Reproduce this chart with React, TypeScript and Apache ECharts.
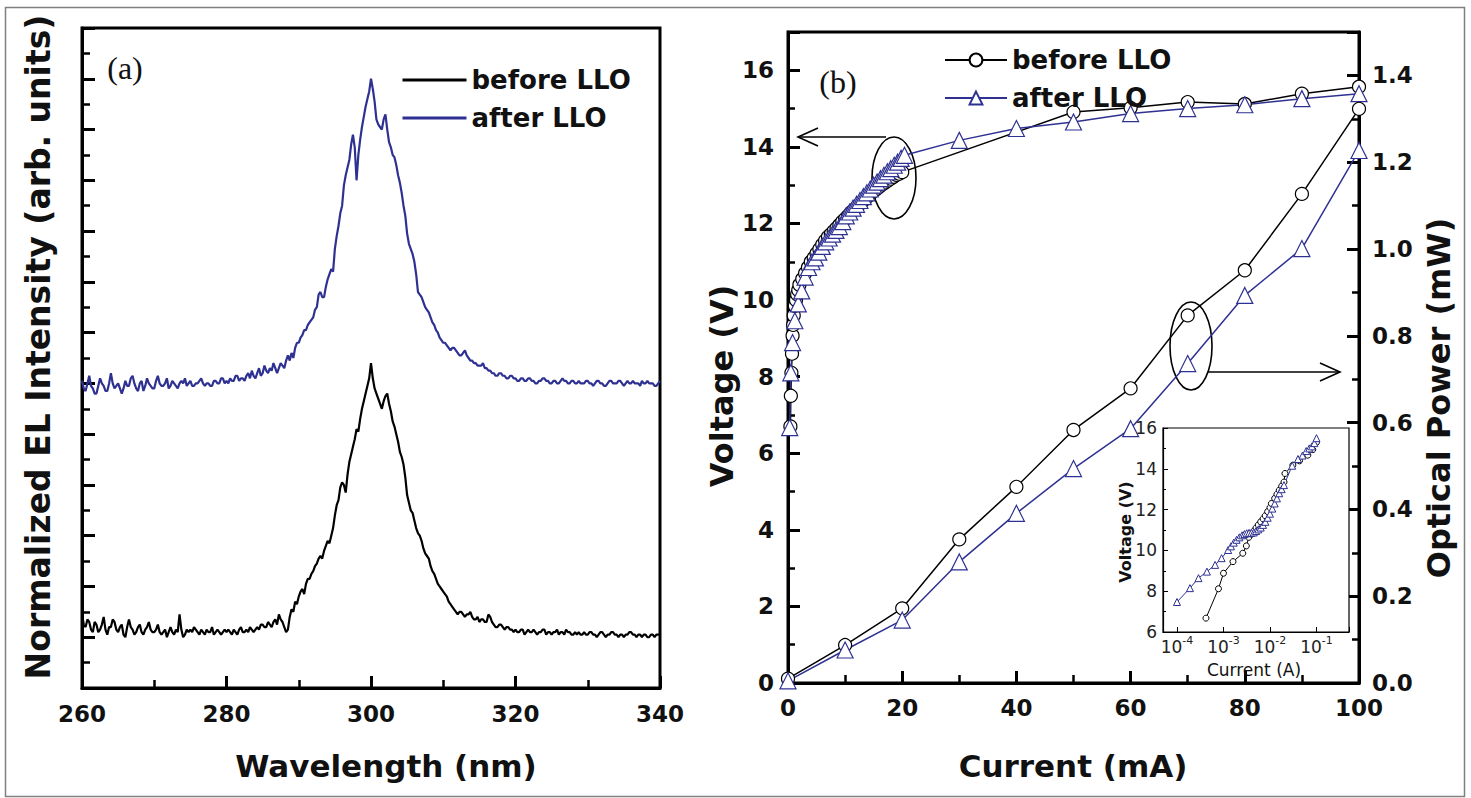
import React, { useEffect, useRef } from "react";
import * as echarts from "echarts";

// ---------- Panel (a): EL spectra (260–340 nm, 0.25 nm steps) ----------
const wlStart = 260;
const wlStep = 0.25;
const specBefore: number[] = [
  2.9, 2.5, 2.4, 2.7, 2.6, 2.3, 2.2, 2.6, 2.5, 2.2, 2.3, 2.5, 2.8, 2.3, 2.1, 2.4, 2.4, 2.7, 2.6, 2.3,
  2.2, 2.4, 2.5, 2.1, 2.0, 2.4, 2.7, 2.4, 2.3, 2.1, 2.2, 2.4, 2.5, 2.2, 2.1, 2.3, 2.4, 2.6, 2.3, 2.2,
  2.2, 2.3, 2.5, 2.2, 2.1, 2.2, 2.3, 2.0, 2.2, 2.4, 2.2, 2.1, 2.3, 2.2, 2.9, 2.3, 2.0, 2.1, 2.3, 2.2,
  2.3, 2.2, 2.4, 2.3, 2.2, 2.1, 2.3, 2.2, 2.1, 2.3, 2.2, 2.2, 2.4, 2.1, 2.2, 2.3, 2.2, 2.1, 2.2, 2.3,
  2.2, 2.3, 2.2, 2.1, 2.3, 2.2, 2.1, 2.3, 2.4, 2.2, 2.2, 2.3, 2.2, 2.4, 2.3, 2.2, 2.3, 2.4, 2.3, 2.5,
  2.5, 2.4, 2.4, 2.6, 2.5, 2.4, 2.6, 2.7, 2.5, 2.9, 2.7, 2.6, 2.4, 2.2, 2.3, 2.8, 3.1, 3.0, 3.4, 3.3,
  3.6, 3.8, 3.9, 3.7, 4.1, 4.3, 4.3, 4.5, 4.6, 4.8, 4.9, 5.1, 5.2, 5.1, 5.4, 5.6, 5.8, 5.7, 6.0, 6.3,
  6.8, 7.2, 7.4, 7.9, 8.1, 8.0, 7.7, 8.4, 8.9, 9.2, 9.5, 9.8, 10.2, 10.1, 10.6, 11.0, 11.3, 11.6, 11.9, 12.2,
  12.8, 12.2, 11.8, 11.6, 11.4, 11.2, 11.0, 11.3, 11.5, 11.6, 11.2, 10.9, 10.5, 10.3, 10.0, 9.7, 9.3, 9.1, 8.8, 8.3,
  7.6, 7.3, 7.0, 6.9, 6.6, 6.3, 6.1, 6.0, 5.8, 5.5, 5.3, 5.2, 5.1, 4.8, 4.6, 4.5, 4.3, 4.1, 4.0, 3.9,
  3.8, 3.7, 3.6, 3.4, 3.3, 3.2, 3.1, 3.0, 2.9, 3.0, 3.0, 2.9, 2.8, 2.9, 2.9, 3.0, 2.8, 2.7, 2.7, 2.8,
  2.6, 2.7, 2.7, 2.6, 2.6, 2.9, 2.8, 2.6, 2.5, 2.4, 2.4, 2.5, 2.5, 2.4, 2.3, 2.4, 2.4, 2.3, 2.3, 2.2,
  2.3, 2.2, 2.2, 2.3, 2.3, 2.1, 2.2, 2.3, 2.2, 2.2, 2.3, 2.2, 2.1, 2.2, 2.2, 2.3, 2.3, 2.1, 2.2, 2.2,
  2.1, 2.2, 2.2, 2.3, 2.1, 2.2, 2.2, 2.1, 2.3, 2.2, 2.2, 2.1, 2.1, 2.2, 2.1, 2.2, 2.1, 2.1, 2.2, 2.1,
  2.1, 2.2, 2.2, 2.1, 2.1, 2.0, 2.1, 2.2, 2.2, 2.1, 2.0, 2.1, 2.1, 2.2, 2.2, 2.1, 2.1, 2.0, 2.1, 2.1,
  2.0, 2.1, 2.1, 2.2, 2.2, 2.1, 2.1, 2.0, 2.1, 2.1, 2.0, 2.1, 2.1, 2.0, 2.0, 2.1, 2.1, 2.0, 2.1, 2.1,
  2.1,
];
const specAfter: number[] = [
  12.1, 11.8, 11.7, 12.0, 12.3, 11.9, 11.8, 11.6, 11.6, 11.9, 12.2, 12.0, 11.9, 11.7, 11.7, 12.0, 12.4, 12.0, 11.8, 11.9,
  12.0, 11.8, 11.6, 11.8, 12.1, 11.9, 11.9, 12.2, 12.3, 12.0, 11.8, 11.7, 12.0, 12.1, 11.7, 11.9, 12.2, 12.0, 11.9, 11.8,
  11.8, 12.1, 12.3, 12.0, 11.9, 11.9, 12.0, 12.2, 11.8, 11.9, 12.1, 12.0, 11.9, 11.8, 12.0, 12.1, 12.0, 12.2, 11.9, 12.0,
  12.1, 11.9, 11.9, 12.0, 12.0, 12.1, 12.2, 12.0, 11.9, 12.0, 12.0, 11.9, 11.9, 12.1, 12.1, 12.0, 12.0, 12.2, 12.2, 12.0,
  12.1, 12.0, 12.2, 12.1, 12.1, 12.3, 12.3, 12.1, 12.2, 12.2, 12.1, 12.3, 12.4, 12.2, 12.5, 12.3, 12.2, 12.4, 12.6, 12.3,
  12.4, 12.7, 12.5, 12.4, 12.6, 12.5, 12.8, 12.6, 12.4, 12.6, 12.8, 12.7, 12.6, 12.9, 13.1, 12.9, 13.2, 13.0, 13.4, 13.6,
  13.6, 13.8, 13.9, 14.1, 14.1, 14.3, 14.4, 14.5, 14.6, 14.9, 15.0, 15.5, 15.6, 15.4, 15.4, 15.8, 16.1, 16.3, 16.5, 16.4,
  17.3, 17.8, 18.2, 18.7, 19.0, 19.8, 20.2, 20.5, 20.8, 21.4, 21.8, 21.3, 20.0, 21.0, 21.6, 22.1, 22.5, 22.9, 23.2, 23.5,
  24.0, 23.6, 23.1, 22.4, 22.2, 22.1, 22.0, 22.4, 22.6, 22.0, 21.5, 21.3, 21.0, 20.9, 20.6, 20.2, 19.9, 19.5, 19.0, 18.6,
  17.9, 17.5, 17.3, 17.1, 16.8, 16.3, 15.6, 15.5, 15.4, 15.2, 15.0, 14.9, 14.8, 14.6, 14.4, 14.3, 14.1, 14.0, 13.8, 13.7,
  13.6, 13.6, 13.5, 13.4, 13.3, 13.4, 13.4, 13.3, 13.2, 13.1, 13.1, 13.2, 13.3, 13.1, 13.0, 12.9, 12.9, 12.8, 12.8, 12.7,
  12.7, 12.7, 12.8, 12.6, 12.6, 12.5, 12.5, 12.4, 12.4, 12.3, 12.3, 12.4, 12.4, 12.3, 12.3, 12.2, 12.2, 12.3, 12.3, 12.2,
  12.2, 12.1, 12.1, 12.2, 12.2, 12.1, 12.1, 12.2, 12.2, 12.1, 12.1, 12.0, 12.0, 12.1, 12.1, 12.2, 12.2, 12.1, 12.1, 12.0,
  12.0, 12.1, 12.1, 12.0, 12.0, 12.1, 12.2, 12.1, 12.1, 12.0, 12.0, 12.1, 12.1, 12.0, 12.0, 12.1, 12.0, 12.0, 12.0, 12.1,
  12.1, 12.0, 12.0, 11.9, 12.0, 12.1, 12.1, 12.0, 12.0, 11.9, 11.9, 12.0, 12.1, 12.1, 12.0, 12.0, 12.0, 12.1, 12.1, 12.0,
  11.9, 12.0, 12.1, 12.0, 12.0, 12.1, 12.0, 12.0, 12.0, 11.9, 12.1, 12.0, 12.0, 12.1, 12.0, 12.0, 12.0, 11.9, 11.9, 12.0,
  12.1,
];

// ---------- Panel (b): L-I-V ----------
const vBeforeI: number[] = [0.42, 0.5, 0.6, 0.7, 0.8, 0.9, 1.0, 1.2, 1.4, 1.6, 1.8, 2.0, 2.5, 3.0, 3.5, 4.0, 4.5, 5.0, 5.5, 6.0, 6.5, 7.0, 7.5, 8.0, 8.5, 9.0, 9.5, 10.0, 10.5, 11, 11.5, 12, 12.5, 13, 13.5, 14, 14.5, 15, 15.5, 16, 16.5, 17, 17.5, 18, 18.5, 19, 19.5, 20, 50, 60, 70, 80, 90, 100];
const vBeforeV: number[] = [6.7, 7.5, 8.1, 8.6, 9.07, 9.35, 9.6, 9.85, 10.0, 10.15, 10.26, 10.4, 10.55, 10.7, 10.85, 11.0, 11.1, 11.22, 11.33, 11.45, 11.55, 11.65, 11.72, 11.8, 11.88, 11.96, 12.05, 12.12, 12.2, 12.28, 12.35, 12.42, 12.5, 12.57, 12.64, 12.71, 12.78, 12.85, 12.9, 12.96, 13.02, 13.07, 13.12, 13.17, 13.22, 13.27, 13.3, 13.34, 14.91, 15.02, 15.17, 15.12, 15.39, 15.57];
const vAfterI: number[] = [0.3, 0.5, 0.8, 1.2, 1.8, 2.4, 3.0, 3.6, 4.2, 4.8, 5.4, 6.0, 6.6, 7.2, 7.8, 8.4, 9.0, 9.6, 10.2, 10.8, 11.4, 12, 12.6, 13.2, 13.8, 14.4, 15, 15.6, 16.2, 16.8, 17.4, 18, 18.6, 19.2, 19.8, 20.4, 30, 40, 50, 60, 70, 80, 90, 100];
const vAfterV: number[] = [6.67, 8.1, 8.89, 9.46, 9.9, 10.24, 10.6, 10.85, 11.0, 11.1, 11.25, 11.4, 11.52, 11.62, 11.72, 11.82, 11.92, 12.05, 12.2, 12.3, 12.4, 12.5, 12.6, 12.7, 12.8, 12.9, 13.0, 13.08, 13.17, 13.26, 13.35, 13.43, 13.52, 13.6, 13.7, 13.78, 14.17, 14.48, 14.65, 14.87, 15.0, 15.1, 15.26, 15.39];
const pCurrent: number[] = [0, 10, 20, 30, 40, 50, 60, 70, 80, 90, 100];
const pBefore: number[] = [0.01, 0.0875, 0.172, 0.331, 0.452, 0.583, 0.679, 0.847, 0.951, 1.127, 1.323];
const pAfter: number[] = [0.005, 0.076, 0.145, 0.279, 0.391, 0.494, 0.586, 0.736, 0.893, 1.001, 1.227];

// ---------- Inset: log-current I-V ----------
const insBeforeI: number[] = [4.2e-4, 7.8e-4, 1.0e-3, 1.6e-3, 2.6e-3, 3.1e-3, 3.5e-3, 4.0e-3, 4.5e-3, 5.0e-3, 5.6e-3, 6.3e-3, 7.1e-3, 7.9e-3, 8.9e-3, 1.0e-2, 1.07e-2, 1.26e-2, 1.41e-2, 1.58e-2, 1.78e-2, 2.0e-2, 2.1e-2, 3.1e-2, 4.3e-2, 6.5e-2, 8.3e-2, 1.0e-1];
const insBeforeV: number[] = [6.68, 8.12, 8.88, 9.45, 9.86, 10.22, 10.64, 10.8, 10.95, 11.1, 11.25, 11.4, 11.55, 11.7, 11.9, 12.1, 12.3, 12.55, 12.75, 12.95, 13.15, 13.35, 13.77, 14.18, 14.39, 14.67, 14.94, 15.3];
const insAfterI: number[] = [1.0e-4, 1.9e-4, 2.9e-4, 4.4e-4, 6.6e-4, 9.1e-4, 1.26e-3, 1.45e-3, 1.66e-3, 1.91e-3, 2.19e-3, 2.51e-3, 2.82e-3, 3.16e-3, 3.55e-3, 3.98e-3, 4.47e-3, 5.01e-3, 5.62e-3, 6.31e-3, 7.08e-3, 7.94e-3, 8.91e-3, 1.0e-2, 1.12e-2, 1.26e-2, 1.41e-2, 1.58e-2, 1.78e-2, 2.0e-2, 3.0e-2, 4.0e-2, 5.0e-2, 6.0e-2, 7.0e-2, 8.0e-2, 9.0e-2, 1.0e-1];
const insAfterV: number[] = [7.47, 8.15, 8.64, 8.96, 9.29, 9.62, 10.02, 10.2, 10.38, 10.52, 10.64, 10.74, 10.8, 10.84, 10.86, 10.86, 10.88, 10.95, 11.03, 11.12, 11.25, 11.4, 11.6, 11.8, 12.05, 12.3, 12.55, 12.8, 13.0, 13.2, 14.15, 14.48, 14.65, 14.87, 15.0, 15.1, 15.26, 15.5];

const legendLabels: Record<string, string> = {
  "a-before": "before LLO",
  "a-after": "after LLO",
  "b-before": "before LLO",
  "b-after": "after LLO",
};

const BLUE = "#2e3192";
const SANS = '"DejaVu Sans", sans-serif';
const SERIF = '"Liberation Serif", serif';

const pairs = (xs: number[], ys: number[]) => xs.map((x, i) => [x, ys[i]]);
const specPairs = (ys: number[]) => ys.map((y, i) => [wlStart + i * wlStep, y]);

const tickLabel = { color: "#111", fontFamily: SANS, fontWeight: "bold" as const, fontSize: 23 };

const txt = (text: string, x: number, y: number, font: string, extra: any = {}) => ({
  type: "text", x, y, ...extra,
  style: { text, font, fill: "#111", align: "center", verticalAlign: "middle", textAlign: "center", textVerticalAlign: "middle" },
});

export default function App() {
  const ref = useRef<HTMLDivElement>(null);
  useEffect(() => {
    document.body.style.margin = "0";
    if (!ref.current) return;
    const chart = echarts.init(ref.current, undefined, { renderer: "svg" });

    const axisLine3 = { show: true, lineStyle: { color: "#000", width: 3 } };
    const option: any = {
      animation: false,
      backgroundColor: "#fff",
      grid: [
        { left: 82, top: 28, width: 578, height: 660, show: true, borderColor: "#000", borderWidth: 3 },
        { left: 788, top: 32, width: 571, height: 651, show: true, borderColor: "#000", borderWidth: 3 },
        { left: 1163, top: 428, width: 186, height: 204, show: true, borderColor: "#000", borderWidth: 1.2, backgroundColor: "#fff", z: 5 },
      ],
      xAxis: [
        {
          gridIndex: 0, type: "value", min: 260, max: 340, interval: 20,
          axisLine: axisLine3,
          axisTick: { inside: true, length: 12, lineStyle: { color: "#000", width: 3 } },
          minorTick: { show: true, splitNumber: 2, length: 8, lineStyle: { color: "#000", width: 2.5 } },
          axisLabel: { ...tickLabel, margin: 14 },
          splitLine: { show: false },
        },
        {
          gridIndex: 1, type: "value", min: 0, max: 100, interval: 20,
          axisLine: axisLine3,
          axisTick: { inside: true, length: 12, lineStyle: { color: "#000", width: 3 } },
          minorTick: { show: true, splitNumber: 2, length: 8, lineStyle: { color: "#000", width: 2.5 } },
          axisLabel: { ...tickLabel, margin: 13 },
          splitLine: { show: false },
        },
        {
          gridIndex: 2, type: "log", logBase: 10, min: 5e-5, max: 0.5,
          axisLine: { show: true, lineStyle: { color: "#000", width: 1.2 } },
          axisTick: { inside: true, length: 5, lineStyle: { color: "#000", width: 1 } },
          axisLabel: {
            margin: 3,
            formatter: (v: number) => {
              const l = Math.log10(v);
              const e = Math.round(l);
              if (Math.abs(l - e) > 1e-6) return "";
              return `{b|10}{s|${e}}`;
            },
            rich: {
              b: { fontFamily: SANS, fontSize: 17, color: "#222" },
              s: { fontFamily: SANS, fontSize: 11, color: "#222", padding: [0, 0, 12, 0] },
            },
          },
          splitLine: { show: false },
          z: 6,
        },
      ],
      yAxis: [
        {
          gridIndex: 0, type: "value", min: 0, max: 26, interval: 2,
          axisLine: axisLine3,
          axisTick: { inside: true, length: 13, lineStyle: { color: "#000", width: 3 } },
          minorTick: { show: true, splitNumber: 2, length: 8, lineStyle: { color: "#000", width: 2.5 } },
          axisLabel: { show: false },
          splitLine: { show: false },
        },
        {
          gridIndex: 1, type: "value", position: "left", min: 0, max: 17, interval: 2,
          axisLine: axisLine3,
          axisTick: { inside: true, length: 12, lineStyle: { color: "#000", width: 3 } },
          axisLabel: { ...tickLabel, margin: 14, formatter: (v: number) => (v % 2 === 0 ? String(v) : "") },
          splitLine: { show: false },
        },
        {
          gridIndex: 1, type: "value", position: "right", min: 0, max: 1.5, interval: 0.2,
          axisLine: axisLine3,
          axisTick: { inside: true, length: 12, lineStyle: { color: "#000", width: 3 } },
          axisLabel: {
            ...tickLabel, margin: 13,
            formatter: (v: number) => (Math.abs(v * 5 - Math.round(v * 5)) < 1e-6 ? v.toFixed(1) : ""),
          },
          splitLine: { show: false },
        },
        {
          gridIndex: 2, type: "value", min: 6, max: 16, interval: 2,
          axisLine: { show: true, lineStyle: { color: "#000", width: 1.2 } },
          axisTick: { inside: true, length: 5, lineStyle: { color: "#000", width: 1 } },
          minorTick: { show: true, splitNumber: 2, length: 3, lineStyle: { color: "#000", width: 1 } },
          axisLabel: { color: "#222", fontFamily: SANS, fontSize: 17, margin: 6 },
          splitLine: { show: false },
          z: 6,
        },
        {
          gridIndex: 1, type: "value", position: "left", min: 0, max: 17, interval: 1,
          axisLine: { show: false },
          axisTick: { inside: true, length: 7, lineStyle: { color: "#000", width: 2.5 } },
          axisLabel: { show: false },
          splitLine: { show: false },
        },
        {
          gridIndex: 1, type: "value", position: "right", min: 0, max: 1.5, interval: 0.1,
          axisLine: { show: false },
          axisTick: { inside: true, length: 7, lineStyle: { color: "#000", width: 2.5 } },
          axisLabel: { show: false },
          splitLine: { show: false },
        },
      ],
      legend: [
        {
          data: ["a-before", "a-after"], orient: "vertical", left: 396, top: 62,
          itemWidth: 64, itemHeight: 14, itemGap: 12, selectedMode: false,
          itemStyle: { opacity: 0 },
          lineStyle: { width: 3 },
          formatter: (n: string) => legendLabels[n],
          textStyle: { fontFamily: SANS, fontWeight: "bold", fontSize: 26, color: "#111" },
        },
        {
          data: ["b-before", "b-after"], orient: "vertical", left: 939, top: 42,
          itemWidth: 62, itemHeight: 16, itemGap: 12, selectedMode: false,
          lineStyle: { width: 2 },
          formatter: (n: string) => legendLabels[n],
          textStyle: { fontFamily: SANS, fontWeight: "bold", fontSize: 26, color: "#111" },
        },
      ],
      series: [
        {
          name: "a-before", type: "line", xAxisIndex: 0, yAxisIndex: 0, data: specPairs(specBefore),
          symbol: "none", lineStyle: { color: "#000", width: 2.2 }, itemStyle: { color: "#000" },
        },
        {
          name: "a-after", type: "line", xAxisIndex: 0, yAxisIndex: 0, data: specPairs(specAfter),
          symbol: "none", lineStyle: { color: BLUE, width: 2.2 }, itemStyle: { color: BLUE },
        },
        {
          name: "b-before", type: "line", xAxisIndex: 1, yAxisIndex: 1, data: pairs(vBeforeI, vBeforeV),
          symbol: "circle", symbolSize: 13, showAllSymbol: true,
          lineStyle: { color: "#000", width: 1.5 },
          itemStyle: { color: "#fff", borderColor: "#000", borderWidth: 1.2 },
        },
        {
          name: "b-after", type: "line", xAxisIndex: 1, yAxisIndex: 1, data: pairs(vAfterI, vAfterV),
          symbol: "triangle", symbolSize: 16, showAllSymbol: true,
          lineStyle: { color: BLUE, width: 1.5 },
          itemStyle: { color: "#fff", borderColor: BLUE, borderWidth: 1.2 },
        },
        {
          name: "b-before-P", type: "line", xAxisIndex: 1, yAxisIndex: 2, data: pairs(pCurrent, pBefore),
          symbol: "circle", symbolSize: 13, showAllSymbol: true,
          lineStyle: { color: "#000", width: 1.5 },
          itemStyle: { color: "#fff", borderColor: "#000", borderWidth: 1.2 },
        },
        {
          name: "b-after-P", type: "line", xAxisIndex: 1, yAxisIndex: 2, data: pairs(pCurrent, pAfter),
          symbol: "triangle", symbolSize: 16, showAllSymbol: true,
          lineStyle: { color: BLUE, width: 1.5 },
          itemStyle: { color: "#fff", borderColor: BLUE, borderWidth: 1.2 },
        },
        {
          name: "inset-before", type: "line", xAxisIndex: 2, yAxisIndex: 3, data: pairs(insBeforeI, insBeforeV),
          symbol: "circle", symbolSize: 6, showAllSymbol: true, z: 7,
          lineStyle: { color: "#000", width: 1 },
          itemStyle: { color: "#fff", borderColor: "#000", borderWidth: 1 },
        },
        {
          name: "inset-after", type: "line", xAxisIndex: 2, yAxisIndex: 3, data: pairs(insAfterI, insAfterV),
          symbol: "triangle", symbolSize: 7, showAllSymbol: true, z: 7,
          lineStyle: { color: BLUE, width: 1 },
          itemStyle: { color: "#fff", borderColor: BLUE, borderWidth: 1 },
        },
      ],
      graphic: [
        { type: "rect", silent: true, z: -10, shape: { x: 5.5, y: 7.5, width: 1459, height: 789 }, style: { fill: "none", stroke: "#808080", lineWidth: 1.5 } },
        txt("(a)", 125, 68, `32px ${SERIF}`),
        txt("(b)", 838, 82, `32px ${SERIF}`),
        txt("Wavelength (nm)", 386, 766, `bold 31px ${SANS}`),
        txt("Normalized EL Intensity (arb. units)", 38, 347, `bold 33px ${SANS}`, { rotation: Math.PI / 2 }),
        txt("Current (mA)", 1073, 766, `bold 31px ${SANS}`),
        txt("Voltage (V)", 722, 386, `bold 32px ${SANS}`, { rotation: Math.PI / 2 }),
        txt("Optical Power (mW)", 1439, 398, `bold 32px ${SANS}`, { rotation: Math.PI / 2 }),
        txt("Voltage (V)", 1125, 532, `bold 16px ${SANS}`, { rotation: Math.PI / 2, z: 20 }),
        txt("Current (A)", 1254, 670, `17px ${SANS}`, { z: 20 }),
        { type: "ellipse", shape: { cx: 894, cy: 178, rx: 22, ry: 41 }, style: { fill: "none", stroke: "#000", lineWidth: 1.6 } },
        { type: "line", shape: { x1: 886, y1: 137, x2: 798, y2: 137 }, style: { stroke: "#000", lineWidth: 1.6 } },
        { type: "polyline", shape: { points: [[818, 128], [798, 137], [818, 146]] }, style: { fill: "none", stroke: "#000", lineWidth: 1.6 } },
        { type: "ellipse", shape: { cx: 1191, cy: 346, rx: 21, ry: 44 }, style: { fill: "none", stroke: "#000", lineWidth: 1.6 } },
        { type: "line", shape: { x1: 1208, y1: 372, x2: 1340, y2: 372 }, style: { stroke: "#000", lineWidth: 1.6 } },
        { type: "polyline", shape: { points: [[1320, 363], [1340, 372], [1320, 381]] }, style: { fill: "none", stroke: "#000", lineWidth: 1.6 } },
      ],
    };
    chart.setOption(option);
    return () => chart.dispose();
  }, []);
  return <div ref={ref} style={{ width: 1471, height: 798 }} />;
}
